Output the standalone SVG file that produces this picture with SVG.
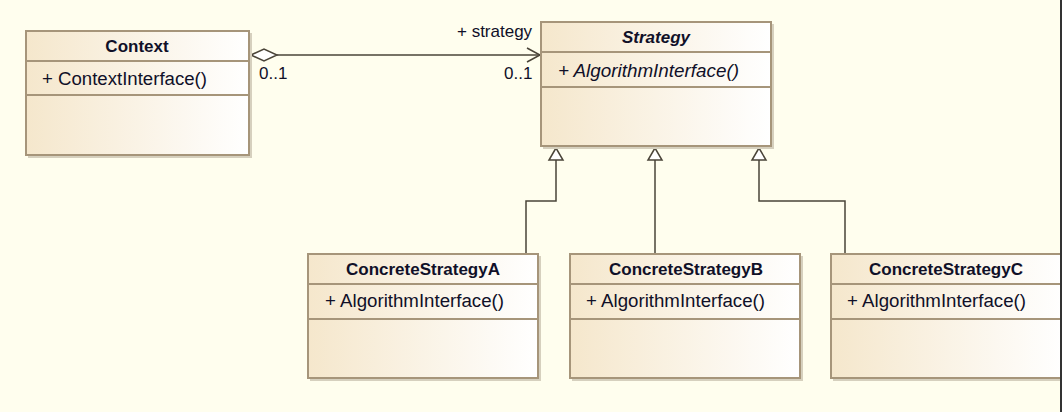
<svg xmlns="http://www.w3.org/2000/svg" width="1062" height="412" viewBox="0 0 1062 412">
<style>
.box{fill:url(#g);stroke:#A6957A;stroke-width:2}
.div{stroke:#A6957A;stroke-width:2}
.sh{fill:none;stroke:#D6D0BE;stroke-width:2}
.t{font-family:"Liberation Sans",Arial,sans-serif;font-size:17px;fill:#101028}
.m{font-size:18px}
.b{font-weight:bold;text-anchor:middle}
.i{font-style:italic}
.ln{fill:none;stroke:#4a4438;stroke-width:1.5}
.tri{fill:#fff;stroke:#4a4438;stroke-width:1.5}
</style>
<defs>
<linearGradient id="g" x1="0" y1="0" x2="1" y2="0">
<stop offset="0" stop-color="#F5E7CC"/>
<stop offset="1" stop-color="#FFFFFF"/>
</linearGradient>
</defs>
<rect x="0" y="0" width="1062" height="412" fill="#FFFEEE"/>

<g id="connectors">
<line class="ln" x1="277" y1="55" x2="540" y2="55"/>
<polygon class="tri" points="251,55 264,49 277,55 264,61"/>
<polyline class="ln" points="527,48 540,55 527,62"/>
<text class="t" x="259" y="79">0..1</text>
<text class="t" x="504" y="79">0..1</text>
<text class="t" x="457" y="37">+ strategy</text>

<polyline class="ln" points="526,254 526,201 556,201 556,160"/>
<polygon class="tri" points="556,148 549,160 563,160"/>
<line class="ln" x1="655" y1="254" x2="655" y2="160"/>
<polygon class="tri" points="655,148 648,160 662,160"/>
<polyline class="ln" points="845,254 845,201 759,201 759,160"/>
<polygon class="tri" points="759,148 752,160 766,160"/>
</g>

<g id="context">
<polyline class="sh" points="28,157 251,157 251,33"/>
<rect class="box" x="26" y="31" width="223" height="124"/>
<line class="div" x1="26" y1="61" x2="249" y2="61"/>
<line class="div" x1="26" y1="95" x2="249" y2="95"/>
<text class="t b" x="137" y="52">Context</text>
<text class="t m" x="42" y="85" textLength="165" lengthAdjust="spacingAndGlyphs">+ ContextInterface()</text>
</g>

<g id="strategy">
<polyline class="sh" points="543,148 773,148 773,24"/>
<rect class="box" x="541" y="22" width="230" height="124"/>
<line class="div" x1="541" y1="52" x2="771" y2="52"/>
<line class="div" x1="541" y1="87" x2="771" y2="87"/>
<text class="t b i" x="656" y="43">Strategy</text>
<text class="t m i" x="558" y="77" textLength="181" lengthAdjust="spacingAndGlyphs">+ AlgorithmInterface()</text>
</g>

<g id="concreteA">
<polyline class="sh" points="310,380 540,380 540,256"/>
<rect class="box" x="308" y="254" width="230" height="124"/>
<line class="div" x1="308" y1="284" x2="538" y2="284"/>
<line class="div" x1="308" y1="319" x2="538" y2="319"/>
<text class="t b" x="423" y="275">ConcreteStrategyA</text>
<text class="t m" x="325" y="307" textLength="179" lengthAdjust="spacingAndGlyphs">+ AlgorithmInterface()</text>
</g>

<g id="concreteB">
<polyline class="sh" points="572,380 802,380 802,256"/>
<rect class="box" x="570" y="254" width="230" height="124"/>
<line class="div" x1="570" y1="284" x2="800" y2="284"/>
<line class="div" x1="570" y1="319" x2="800" y2="319"/>
<text class="t b" x="686" y="275">ConcreteStrategyB</text>
<text class="t m" x="586" y="307" textLength="179" lengthAdjust="spacingAndGlyphs">+ AlgorithmInterface()</text>
</g>

<g id="concreteC">
<polyline class="sh" points="833,380 1060,380"/>
<rect class="box" x="831" y="254" width="234" height="124"/>
<line class="div" x1="831" y1="284" x2="1060" y2="284"/>
<line class="div" x1="831" y1="319" x2="1060" y2="319"/>
<text class="t b" x="946" y="275">ConcreteStrategyC</text>
<text class="t m" x="847" y="307" textLength="179" lengthAdjust="spacingAndGlyphs">+ AlgorithmInterface()</text>
</g>
<line x1="1061" y1="0" x2="1061" y2="412" stroke="#333" stroke-width="2"/>
</svg>
